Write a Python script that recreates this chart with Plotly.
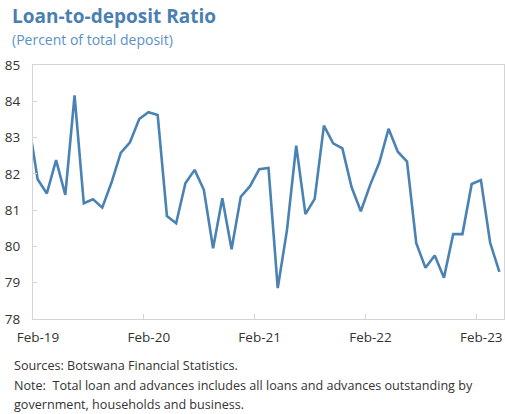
import plotly.graph_objects as go

months = ["Jan-19", "Feb-19", "Mar-19", "Apr-19", "May-19", "Jun-19", "Jul-19", "Aug-19", "Sep-19", "Oct-19", "Nov-19", "Dec-19",
          "Jan-20", "Feb-20", "Mar-20", "Apr-20", "May-20", "Jun-20", "Jul-20", "Aug-20", "Sep-20", "Oct-20", "Nov-20", "Dec-20",
          "Jan-21", "Feb-21", "Mar-21", "Apr-21", "May-21", "Jun-21", "Jul-21", "Aug-21", "Sep-21", "Oct-21", "Nov-21", "Dec-21",
          "Jan-22", "Feb-22", "Mar-22", "Apr-22", "May-22", "Jun-22", "Jul-22", "Aug-22", "Sep-22", "Oct-22", "Nov-22", "Dec-22",
          "Jan-23", "Feb-23", "Mar-23", "Apr-23"]

ratio = [83.47, 81.85, 81.46, 82.38, 81.42, 84.16, 81.19, 81.30, 81.07, 81.76, 82.58, 82.87,
         83.51, 83.70, 83.62, 80.84, 80.64, 81.74, 82.11, 81.56, 79.95, 81.33, 79.92, 81.37,
         81.66, 82.13, 82.16, 78.85, 80.45, 82.78, 80.89, 81.31, 83.33, 82.84, 82.70, 81.63,
         80.97, 81.69, 82.31, 83.24, 82.61, 82.34, 80.09, 79.41, 79.75, 79.14, 80.34, 80.34,
         81.72, 81.83, 80.10, 79.30]

tick_labels = ["Feb-19", "Feb-20", "Feb-21", "Feb-22", "Feb-23"]
y_ticks = [78, 79, 80, 81, 82, 83, 84, 85]

title = "Loan-to-deposit Ratio"
subtitle = "(Percent of total deposit)"
source = "Sources: Botswana Financial Statistics."
note_lines = ["Note:  Total loan and advances includes all loans and advances outstanding by",
              "government, households and business."]

FONT = "Open Sans"
LINE_BLUE = "#4a82b4"
TITLE_BLUE = "#4a7fb2"
SUB_BLUE = "#5b91c6"
BORDER = "#d4d4d4"
TEXT = "#333333"

# month position index for each category
x_idx = list(range(len(months)))
# tick marks sit on the boundary before each labelled month
tick_pos = [months.index(t) - 0.5 for t in tick_labels]

fig = go.Figure()
fig.add_trace(go.Scatter(x=x_idx, y=ratio, mode="lines", customdata=months,
                         line=dict(color=LINE_BLUE, width=2.6),
                         hovertemplate="%{customdata}: %{y}<extra></extra>", showlegend=False))

fig.update_layout(
    width=505, height=414,
    margin=dict(l=33, r=1, t=65, b=95, autoexpand=False),
    paper_bgcolor="white", plot_bgcolor="white",
    font=dict(family=FONT, color=TEXT, size=13),
)

fig.update_xaxes(
    range=[0.5, len(months) - 0.5],
    tickmode="array", tickvals=tick_pos, ticktext=tick_labels,
    tickangle=0, ticklabelshift=5,
    ticks="inside", ticklen=5, tickcolor=BORDER, tickwidth=1,
    showline=True, linecolor=BORDER, linewidth=1, mirror=True,
    showgrid=False, zeroline=False,
    tickfont=dict(size=13.5, color=TEXT, family=FONT),
    ticklabelstandoff=6,
)
fig.update_yaxes(
    range=[78, 85], tickvals=y_ticks,
    ticks="inside", ticklen=4, tickcolor=BORDER, tickwidth=1,
    showline=True, linecolor=BORDER, linewidth=1, mirror=True,
    showgrid=False, zeroline=False,
    tickfont=dict(size=13.5, color=TEXT, family=FONT),
    ticklabelstandoff=9,
)

annotations = [
    dict(text="<b>" + title + "</b>", x=10, y=16, font=dict(size=19, color=TITLE_BLUE, family=FONT)),
    dict(text=subtitle, x=10, y=40, font=dict(size=14, color=SUB_BLUE, family=FONT)),
    dict(text=source, x=12, y=365, font=dict(size=12.6, color=TEXT, family=FONT)),
    dict(text=note_lines[0], x=12, y=385, font=dict(size=12.6, color=TEXT, family=FONT)),
    dict(text=note_lines[1], x=12, y=404, font=dict(size=12.6, color=TEXT, family=FONT)),
]
for a in annotations:
    fig.add_annotation(text=a["text"], xref="paper", yref="paper",
                       x=(a["x"] - 33) / (505 - 33 - 1),
                       y=1 - (a["y"] - 65) / (414 - 65 - 95),
                       xanchor="left", yanchor="middle", showarrow=False,
                       font=a["font"], align="left")

fig.write_html("out.html", config={"displayModeBar": False},
               post_script="document.body.style.margin='0';document.body.style.overflow='hidden';")
